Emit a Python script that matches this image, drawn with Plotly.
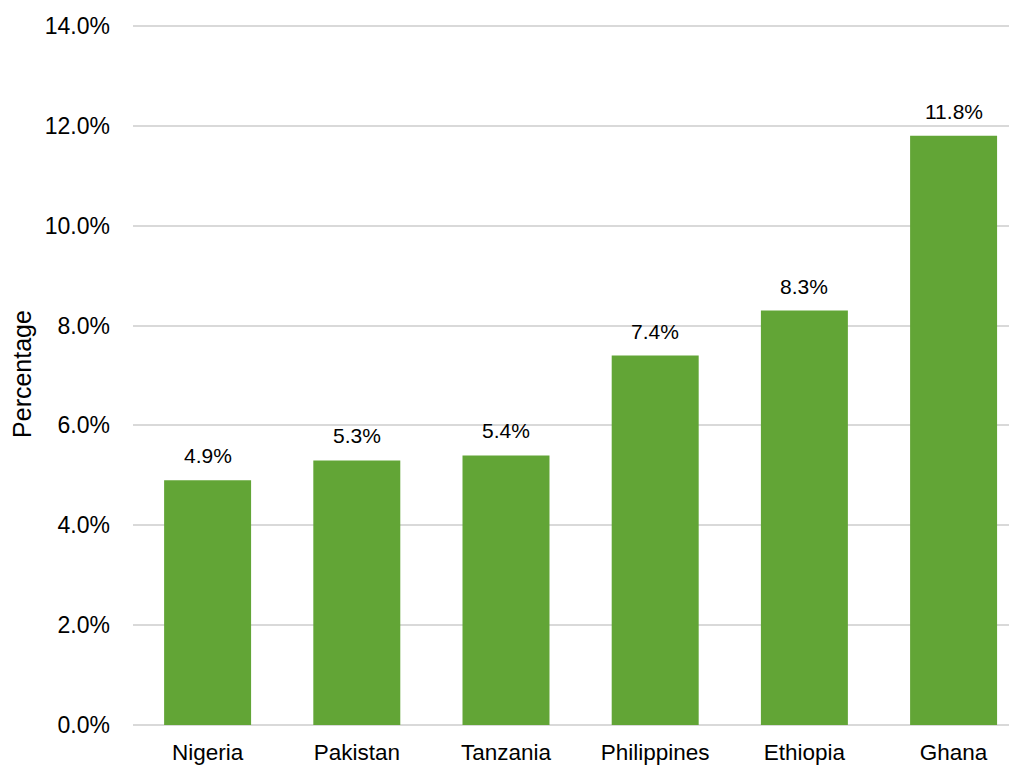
import plotly.graph_objects as go

countries = ["Nigeria", "Pakistan", "Tanzania", "Philippines", "Ethiopia", "Ghana"]
values = [4.9, 5.3, 5.4, 7.4, 8.3, 11.8]
labels = [f"{v:.1f}%" for v in values]
yticks = [0, 2, 4, 6, 8, 10, 12, 14]
yticktext = [f"{t:.1f}%" for t in yticks]

FONT = "Liberation Sans, Arial, sans-serif"

fig = go.Figure(go.Bar(
    x=countries, y=values,
    marker=dict(color="#62A536", line=dict(width=0)),
))

for c, v, t in zip(countries, values, labels):
    fig.add_annotation(
        x=c, y=v, text=t, showarrow=False, yanchor="bottom", yshift=11,
        font=dict(family=FONT, size=21, color="#000000"),
    )

fig.update_layout(
    width=1017, height=765,
    margin=dict(l=125, r=8, t=15, b=48, autoexpand=False),
    paper_bgcolor="white", plot_bgcolor="white",
    bargap=0.417,
    showlegend=False,
    font=dict(family=FONT, size=22, color="#000000"),
)
fig.update_xaxes(
    range=[-0.5, 5.425], showgrid=False, showline=False, automargin=False,
    tickfont=dict(size=22.5), ticklabelstandoff=11,
)
fig.update_yaxes(
    range=[0, 14.06], tickvals=yticks, ticktext=yticktext, automargin=False,
    showgrid=True, gridcolor="#D9D9D9", gridwidth=1.5,
    zeroline=True, zerolinecolor="#D9D9D9", zerolinewidth=1.5,
    tickfont=dict(size=23), ticklabelstandoff=22,
    title=dict(text="Percentage", font=dict(size=25), standoff=14),
)
fig.write_html("out.html")
